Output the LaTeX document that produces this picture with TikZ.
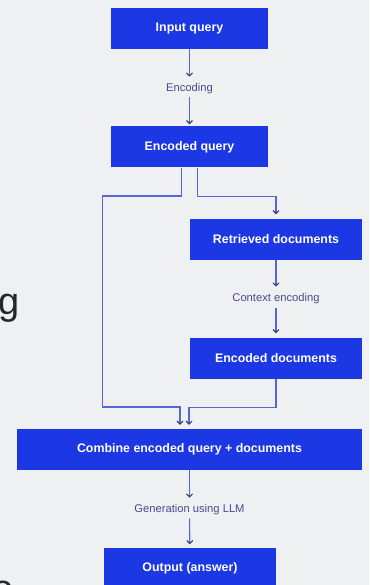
\documentclass[tikz,border=0pt]{standalone}
\usepackage{fontspec}
\setmainfont{Liberation Sans}
\usetikzlibrary{arrows.meta}
\definecolor{boxblue}{HTML}{1C37E4}
\definecolor{lineblue}{HTML}{5566DD}
\definecolor{labelink}{HTML}{454C8F}
\definecolor{tipink}{HTML}{3A3F6A}
\definecolor{bggray}{HTML}{EFF0F1}

\begin{document}
\begin{tikzpicture}[x=1pt,y=-1pt,
		stepbox/.style={fill=boxblue,text=white,font=\bfseries\fontsize{12.4}{14}\selectfont,minimum height=41pt,inner sep=0pt},
		lbl/.style={text=labelink,font=\fontsize{11.2}{13}\selectfont,inner sep=0pt},
		link/.style={draw=lineblue,line width=1.1pt},
		arr/.style={link,-{Straight Barb[length=3pt,width=6pt,color=tipink]}},
		cutoff/.style={inner sep=0pt,text=black!85,font=\fontsize{38}{40}\selectfont}]
		\useasboundingbox (0,0) rectangle (369,585);
		\clip (0,0) rectangle (369,585);
		\fill[bggray] (0,0) rectangle (369,585);
		% letters cut off at the left edge
		\node[cutoff,anchor=base west] (gcut) at (-2,314) {g};
		\node[cutoff,anchor=base] (ocut) at (3,601) {o};
		% boxes
		\node[stepbox,minimum width=157pt] (inq) at (189.5,28.5) {Input query};
		\node[lbl] (enc) at (189.5,89) {Encoding};
		\node[stepbox,minimum width=157pt] (encq) at (189.5,147) {Encoded query};
		\node[stepbox,minimum width=172pt] (ret) at (276,239) {Retrieved documents};
		\node[lbl] (ctx) at (276,299) {Context encoding};
		\node[stepbox,minimum width=172pt] (encd) at (276,358) {Encoded documents};
		\node[stepbox,minimum width=345pt] (comb) at (189.5,449.5) {Combine encoded query + documents};
		\node[lbl] (gen) at (189.5,510) {Generation using LLM};
		\node[stepbox,minimum width=172pt] (out) at (190,568) {Output (answer)};
		% arrows
		\draw[arr,shorten >=7pt] (inq) -- (enc);
		\draw[arr,shorten <=3pt,shorten >=2pt] (enc) -- (encq);
		\draw[arr,shorten >=7pt] (ret) -- (ctx);
		\draw[arr,shorten <=4pt,shorten >=4pt] (ctx) -- (encd);
		\draw[arr,shorten >=7pt] (comb) -- (gen);
		\draw[arr,shorten <=3pt,shorten >=3pt] (gen) -- (out);
		\coordinate (lsplit) at (102.7,196);
		\coordinate (ljoin) at (102.7,407);
		\draw[arr,shorten >=4pt] ([xshift=-7.8pt]encq.south) |- (lsplit) -- (ljoin) -| ([xshift=-9.5pt]comb.north);
		\draw[arr,shorten >=4pt] ([xshift=7.8pt]encq.south) -- ++(0,29) -| (ret.north);
		\draw[arr,shorten >=4pt] (encd.south) -- ++(0,29) -| ([xshift=-0.5pt]comb.north);
\end{tikzpicture}
\end{document}
